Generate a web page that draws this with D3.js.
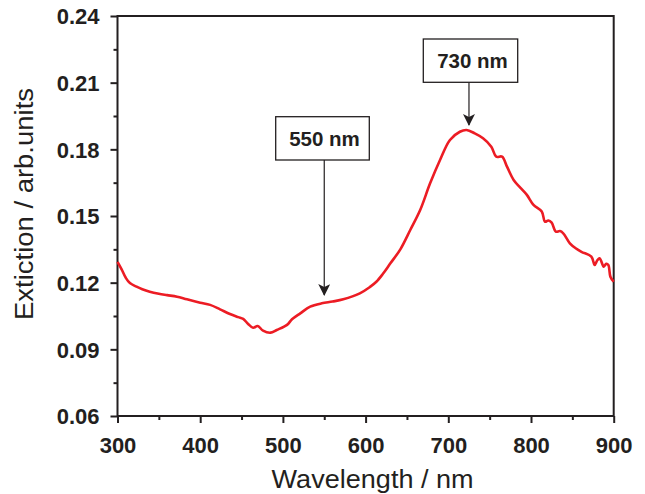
<!DOCTYPE html>
<html><head><meta charset="utf-8">
<script src="https://cdn.jsdelivr.net/npm/d3@7"></script>
<style>body{margin:0;background:#fff}svg{display:block}</style>
</head><body><div id="chart"></div>
<script>
const wavelength = [300,305,310,315,323,330,339,350,360,372,384,400,412,424,436,446,452,458,464,469.5,476,485,492.5,505,511,521,533,547,560,573,593,605,613,621,630,642,654,666,678,690,702,714,722,732,742,752,758,765,771,779,787,795,803,813,817,821,825,830,835,839,847,854,861,873,877,880,883,888,891,893.5,896,900];
const extinction = [0.1294,0.1260,0.1222,0.1198,0.1182,0.1170,0.1159,0.1150,0.1144,0.1137,0.1125,0.1110,0.1100,0.1080,0.1059,0.1045,0.1037,0.1014,0.0997,0.1005,0.0984,0.0975,0.0987,0.1010,0.1035,0.1062,0.1092,0.1107,0.1115,0.1125,0.1152,0.1180,0.1204,0.1240,0.1287,0.1350,0.1437,0.1527,0.1647,0.1752,0.1842,0.1879,0.1887,0.1872,0.1850,0.1812,0.1767,0.1767,0.1722,0.1662,0.1628,0.1595,0.1550,0.1520,0.1474,0.1480,0.1470,0.1430,0.1432,0.1422,0.1377,0.1355,0.1339,0.1317,0.1280,0.1300,0.1310,0.1272,0.1285,0.1280,0.1227,0.1204];
const xTicks = [300,400,500,600,700,800,900];
const xMinor = [350,450,550,650,750,850];
const yTicks = [0.06,0.09,0.12,0.15,0.18,0.21,0.24];
const yMinor = [0.075,0.105,0.135,0.165,0.195,0.225];
const annotations = [{label:"550 nm", wl:550, value:0.1107}, {label:"730 nm", wl:725, value:0.1887}];

const W=645,H=494;
const L=117.5,R=613.7,T=16,B=416;
const svg=d3.select("#chart").append("svg").attr("width",W).attr("height",H);
const x=d3.scaleLinear().domain([300,900]).range([L,R]);
const y=d3.scaleLinear().domain([0.06,0.24]).range([B,T]);
const ink="#231f20";

// frame
svg.append("rect").attr("x",L).attr("y",T).attr("width",R-L).attr("height",B-T)
  .attr("fill","none").attr("stroke",ink).attr("stroke-width",2);

function styleAxis(g){g.select(".domain").remove();g.selectAll("line").attr("stroke",ink).attr("stroke-width",2);}

const xa=svg.append("g").attr("transform",`translate(0,${B})`)
  .call(d3.axisBottom(x).tickValues(xTicks).tickSize(7).tickPadding(14).tickFormat(d3.format("d")));
styleAxis(xa);
xa.selectAll("text").attr("font-family","Liberation Sans, Arial, sans-serif").attr("font-weight","bold").attr("font-size",22).attr("fill",ink);
const xm=svg.append("g").attr("transform",`translate(0,${B})`)
  .call(d3.axisBottom(x).tickValues(xMinor).tickSize(4).tickFormat(""));
styleAxis(xm);

const ya=svg.append("g").attr("transform",`translate(${L},0)`)
  .call(d3.axisLeft(y).tickValues(yTicks).tickSize(7).tickPadding(11).tickFormat(d3.format(".2f")));
styleAxis(ya);
ya.selectAll("text").attr("font-family","Liberation Sans, Arial, sans-serif").attr("font-weight","bold").attr("font-size",22).attr("fill",ink).attr("dy","0.36em");
const ym=svg.append("g").attr("transform",`translate(${L},0)`)
  .call(d3.axisLeft(y).tickValues(yMinor).tickSize(4).tickFormat(""));
styleAxis(ym);

// curve
const line=d3.line().x((d,i)=>x(wavelength[i])).y((d,i)=>y(extinction[i])).curve(d3.curveCatmullRom);
svg.append("path").datum(extinction).attr("d",line).attr("fill","none")
  .attr("stroke","#ec1c24").attr("stroke-width",2.6).attr("stroke-linejoin","round");

// axis titles
svg.append("text").attr("x",(L+R)/2+7).attr("y",488).attr("text-anchor","middle")
  .attr("font-family","Liberation Sans, Arial, sans-serif").attr("font-size",25).attr("fill",ink)
  .attr("textLength",202).attr("lengthAdjust","spacingAndGlyphs").text("Wavelength / nm");
svg.append("text").attr("transform","translate(33,204) rotate(-90)").attr("text-anchor","middle")
  .attr("font-family","Liberation Sans, Arial, sans-serif").attr("font-size",26.5).attr("fill",ink)
  .attr("textLength",232).attr("lengthAdjust","spacingAndGlyphs").text("Extiction / arb.units");

// annotations
const defs=svg.append("defs");
defs.append("marker").attr("id","arr").attr("viewBox","0 0 12 12").attr("refX",11).attr("refY",6)
  .attr("markerWidth",12).attr("markerHeight",12).attr("markerUnits","userSpaceOnUse").attr("orient","auto")
  .append("path").attr("d","M0,0 L12,6 L0,12 L3,6 Z").attr("fill",ink);

const boxes=[{x:275.7,y:116.7,w:93.6,h:43.3,tipY:295},{x:423.3,y:39,w:94.4,h:43.3,tipY:125}];
annotations.forEach((a,i)=>{
  const b=boxes[i];
  const ax=x(a.wl);
  svg.append("line").attr("x1",ax).attr("x2",ax).attr("y1",b.y+b.h).attr("y2",b.tipY)
    .attr("stroke",ink).attr("stroke-width",1.2).attr("marker-end","url(#arr)");
  svg.append("rect").attr("x",b.x).attr("y",b.y).attr("width",b.w).attr("height",b.h)
    .attr("fill","#fff").attr("stroke",ink).attr("stroke-width",1.3);
  svg.append("text").attr("x",b.x+b.w/2+2).attr("y",b.y+b.h/2+7.5).attr("text-anchor","middle")
    .attr("font-family","Liberation Sans, Arial, sans-serif").attr("font-weight","bold").attr("font-size",20.5).attr("fill",ink)
    .text(a.label);
});
</script></body></html>
